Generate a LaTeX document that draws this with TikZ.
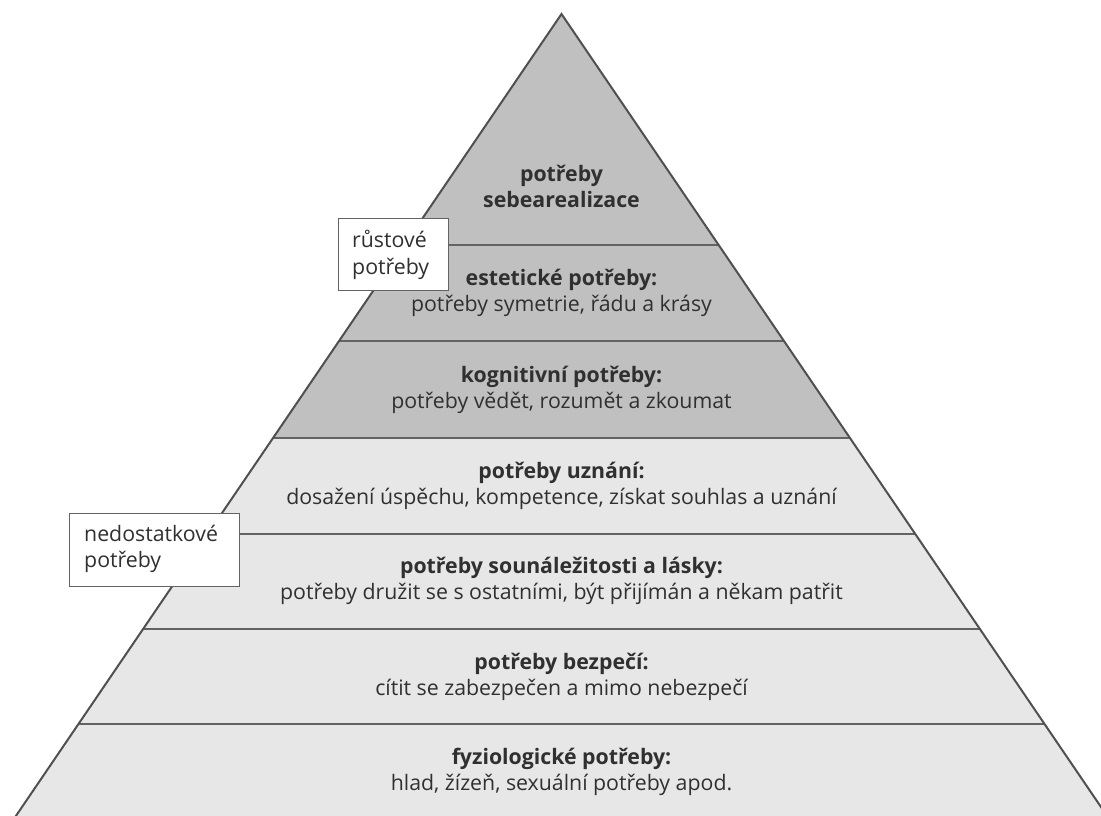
\documentclass[tikz,border=0pt]{standalone}
\usepackage{fontspec}
\setmainfont{Open Sans}
\definecolor{darkfill}{HTML}{C0C0C0}
\definecolor{lightfill}{HTML}{E7E7E7}
\definecolor{edge}{HTML}{505050}
\definecolor{sep}{HTML}{636363}
\definecolor{txt}{HTML}{303030}
\begin{document}
\begin{tikzpicture}[x=1pt,y=-1pt,
  lvl/.style={align=center,text=txt,font=\fontsize{21.3}{26}\selectfont,inner sep=0pt},
  tagbox/.style={draw=sep,line width=1.3pt,fill=white,inner sep=0pt,anchor=north west},
  tagtext/.style={align=left,text=txt,font=\fontsize{21.3}{26.5}\selectfont,inner sep=0pt,anchor=west}]
\useasboundingbox (0,0) rectangle (1101,816);
\clip (0,0) rectangle (1101,816);
\coordinate (A) at (561.5,14);
\coordinate (BL) at (5.0,832);
\coordinate (BR) at (1118.0,832);
% fills
\fill[lightfill] (A) -- (BL) -- (BR) -- cycle;
\begin{scope}
  \clip (A) -- (BL) -- (BR) -- cycle;
  \fill[darkfill] (0,0) rectangle (1101,438);
  \foreach \yy in {245,341,438,534,629,724}
    \draw[sep,line width=2.2pt] (0,\yy) -- (1101,\yy);
\end{scope}
\draw[edge,line width=2pt,line join=miter] (BL) -- (A) -- (BR);
% texts
\node[lvl] (t1) at (561.5,186) {\textbf{potřeby}\\\textbf{sebearealizace}};
\node[lvl] (t2) at (561.5,293) {\textbf{estetické potřeby:}\\potřeby symetrie, řádu a krásy};
\node[lvl] (t3) at (561.5,390) {\textbf{kognitivní potřeby:}\\potřeby vědět, rozumět a zkoumat};
\node[lvl] (t4) at (561.5,486) {\textbf{potřeby uznání:}\\dosažení úspěchu, kompetence, získat souhlas a uznání};
\node[lvl] (t5) at (561.5,581) {\textbf{potřeby sounáležitosti a lásky:}\\potřeby družit se s ostatními, být přijímán a někam patřit};
\node[lvl] (t6) at (561.5,677) {\textbf{potřeby bezpečí:}\\cítit se zabezpečen a mimo nebezpečí};
\node[lvl] (t7) at (561.5,772) {\textbf{fyziologické potřeby:}\\hlad, žízeň, sexuální potřeby apod.};
% side labels
\node[tagbox,minimum width=110pt,minimum height=72pt] (g) at (338,218) {};
\node[tagtext] (gt) at (352,255) {růstové\\potřeby};
\node[tagbox,minimum width=170pt,minimum height=73pt] (d) at (69,513) {};
\node[tagtext] (dt) at (84,549) {nedostatkové\\potřeby};
\end{tikzpicture}
\end{document}
